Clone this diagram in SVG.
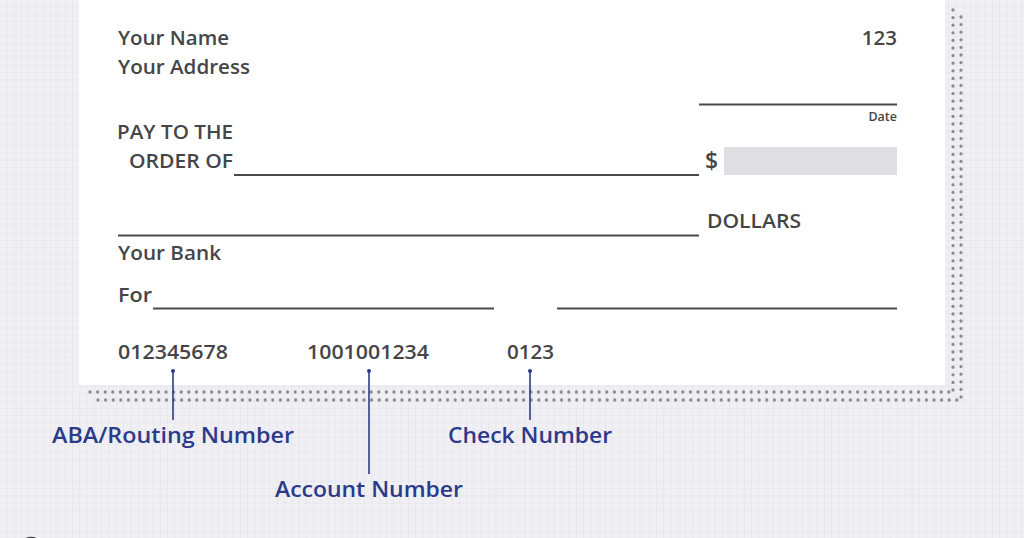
<svg xmlns="http://www.w3.org/2000/svg" width="1024" height="538" viewBox="0 0 1024 538">
<style>
.t{font-family:"Open Sans","Liberation Sans",sans-serif;font-weight:600;fill:#454548;font-size:20.5px}
.s{font-size:12.5px}
.b{font-family:"Open Sans","Liberation Sans",sans-serif;font-weight:600;fill:#2c3a8a;font-size:22px}
.ln{stroke:#4a4a4e;stroke-width:2;fill:none}
.c{stroke:#2c3a8a;stroke-width:1.6;fill:none}
.d{stroke:#8a8a92;stroke-width:3.3;stroke-linecap:round;stroke-dasharray:0 7.6;fill:none}
</style>
<defs>
<pattern id="grid" width="7.3" height="7.3" patternUnits="userSpaceOnUse">
<rect width="7.3" height="7.3" fill="#efeff4"/>
<path d="M7.3 0V7.3M0 7.3H7.3" stroke="#e1e1e9" stroke-width="1"/>
</pattern>
</defs>
<rect width="1024" height="538" fill="url(#grid)"/>
<g id="border-dots">
<line class="d" x1="90" y1="392" x2="955" y2="392"/>
<line class="d" x1="98" y1="400" x2="962" y2="400"/>
<line class="d" x1="953" y1="10" x2="953" y2="392"/>
<line class="d" x1="961" y1="17" x2="961" y2="400"/>
</g>
<rect id="check" x="79" y="0" width="866" height="385" fill="#ffffff"/>
<g id="header">
<text class="t" x="118" y="45" textLength="111" lengthAdjust="spacingAndGlyphs">Your Name</text>
<text class="t" x="118" y="74" textLength="132" lengthAdjust="spacingAndGlyphs">Your Address</text>
<text class="t" x="897" y="45" text-anchor="end">123</text>
</g>
<g id="date">
<line class="ln" x1="699" y1="104.5" x2="897" y2="104.5"/>
<text class="t s" x="897" y="121" text-anchor="end">Date</text>
</g>
<g id="payee">
<text class="t" x="117" y="139" textLength="116" lengthAdjust="spacingAndGlyphs">PAY TO THE</text>
<text class="t" x="129" y="168" textLength="104" lengthAdjust="spacingAndGlyphs">ORDER OF</text>
<line class="ln" x1="234" y1="175" x2="699" y2="175"/>
</g>
<g id="amount">
<text class="t" x="705" y="169" style="font-size:23px">$</text>
<rect x="724" y="147" width="173" height="28" fill="#dfdfe3"/>
</g>
<g id="dollars">
<line class="ln" x1="118" y1="235.5" x2="699" y2="235.5"/>
<text class="t" x="707" y="228" textLength="94" lengthAdjust="spacingAndGlyphs">DOLLARS</text>
</g>
<g id="bank">
<text class="t" x="118" y="260" textLength="103" lengthAdjust="spacingAndGlyphs">Your Bank</text>
</g>
<g id="memo">
<text class="t" x="118" y="302" textLength="34" lengthAdjust="spacingAndGlyphs">For</text>
<line class="ln" x1="153" y1="308.5" x2="494" y2="308.5"/>
</g>
<g id="signature">
<line class="ln" x1="557" y1="308.5" x2="897" y2="308.5"/>
</g>
<g id="micr">
<text class="t" x="118" y="359" textLength="110" lengthAdjust="spacingAndGlyphs">012345678</text>
<text class="t" x="307" y="359" textLength="122" lengthAdjust="spacingAndGlyphs">1001001234</text>
<text class="t" x="507" y="359" textLength="47" lengthAdjust="spacingAndGlyphs">0123</text>
</g>
<g id="connectors">
<circle cx="173" cy="371" r="2" fill="#2c3a8a"/>
<line class="c" x1="173" y1="371" x2="173" y2="420"/>
<circle cx="369" cy="371" r="2" fill="#2c3a8a"/>
<line class="c" x1="369" y1="371" x2="369" y2="474"/>
<circle cx="530" cy="371" r="2" fill="#2c3a8a"/>
<line class="c" x1="530" y1="371" x2="530" y2="420"/>
</g>
<g id="label-routing">
<text class="b" x="52" y="443" textLength="242" lengthAdjust="spacingAndGlyphs">ABA/Routing Number</text>
</g>
<g id="label-account">
<text class="b" x="275" y="497" textLength="188" lengthAdjust="spacingAndGlyphs">Account Number</text>
</g>
<g id="label-check">
<text class="b" x="448" y="443" textLength="164" lengthAdjust="spacingAndGlyphs">Check Number</text>
</g>
<circle cx="31" cy="549" r="11" fill="none" stroke="#3a3a40" stroke-width="2.5"/>
</svg>
